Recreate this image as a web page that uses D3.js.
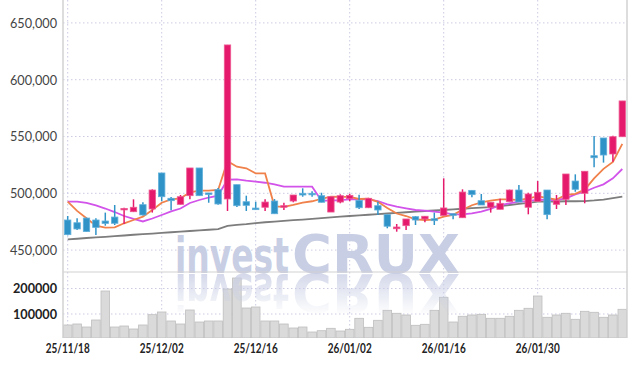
<!DOCTYPE html>
<html><head><meta charset="utf-8">
<script src="https://cdn.jsdelivr.net/npm/d3@7/dist/d3.min.js"></script>
<style>html,body{margin:0;padding:0;background:#fff;} svg{display:block;}</style>
</head><body>
<svg id="chart" width="637" height="366"></svg>
<script>
const dates = ["25/11/18","25/11/19","25/11/20","25/11/21","25/11/24","25/11/25","25/11/26","25/11/27","25/11/28","25/12/01",
"25/12/02","25/12/03","25/12/04","25/12/05","25/12/08","25/12/09","25/12/10","25/12/11","25/12/12","25/12/15",
"25/12/16","25/12/17","25/12/18","25/12/19","25/12/22","25/12/23","25/12/24","25/12/26","25/12/29","25/12/30",
"26/01/02","26/01/05","26/01/06","26/01/07","26/01/08","26/01/09","26/01/12","26/01/13","26/01/14","26/01/15",
"26/01/16","26/01/19","26/01/20","26/01/21","26/01/22","26/01/23","26/01/26","26/01/27","26/01/28","26/01/29",
"26/01/30","26/02/02","26/02/03","26/02/04","26/02/05","26/02/06","26/02/09","26/02/10","26/02/11","26/02/12"];
const tickDates = ["25/11/18","25/12/02","25/12/16","26/01/02","26/01/16","26/01/30"];
const opens = [476500,474100,478200,476500,475600,479100,486000,483800,490000,486200,
517900,495600,490300,497900,522300,500300,503200,495000,507600,492600,
487000,487700,493200,488000,493200,500000,500000,497900,483500,492300,
495200,493800,487300,489100,481200,468800,471500,479400,477400,477600,
480500,482000,478500,502600,493500,487700,485900,492600,502900,487700,
492800,502900,490300,494700,510800,500000,533100,548700,534600,549800];
const highs = [480000,478000,478500,478000,483000,489700,487300,494700,492100,503500,
517900,496700,498500,522300,522300,500300,504700,630600,507600,497900,
492600,494700,494900,491700,498500,504400,501800,500500,497000,499100,
499600,498800,496000,492600,481200,473000,477400,480000,480000,483000,
513200,482000,503500,502600,499400,492100,495200,503200,507300,500500,
510800,502900,498500,517000,516700,519400,550400,548700,550700,581300];
const lows = [463000,467700,466000,463300,471500,472100,473000,483500,480500,483000,
493000,485000,490000,494700,497900,491700,490000,484400,488000,484400,
485500,484400,482000,485300,492100,497000,497000,492000,483500,491200,
493000,486100,487000,480900,469200,466200,467700,472100,474500,472100,
480500,477100,478500,496500,489700,483000,485900,492600,492300,481500,
492800,477100,486200,489700,501400,491200,522900,527000,527800,549800];
const closes = [463600,468600,466300,470000,473500,473600,486700,487700,480900,502900,
497000,493500,497000,522300,497900,499400,490600,630600,489100,489400,
485600,492300,482000,489100,498500,498500,498800,492100,497000,497900,
498200,487300,495600,485300,471000,470300,477400,476500,479800,475900,
487100,480600,501100,498800,489700,492100,491200,502900,492300,499400,
500900,481200,493800,517000,503500,519400,531300,533700,549800,581300];
const volumes = [56900,60800,49000,76500,190200,49000,52900,41200,56900,97300,
107900,72600,60800,115700,68600,72600,72600,198000,241200,123500,
127500,72600,72600,60800,45100,49000,29400,34500,43900,33300,
40000,83100,47800,75300,114500,102800,96100,55700,59600,114500,
165500,68600,91000,96100,98800,83100,83100,91000,114500,122400,
170600,87100,96100,102800,79200,110600,106700,87100,96100,118400];
const ma5 = [492600,484500,478000,471500,469700,470000,473600,476500,479400,485300,
491700,494700,495600,500900,502300,502300,502900,528300,523400,522000,
517500,517500,488500,488000,489800,491800,493000,495200,497000,496900,
496800,495000,495200,492500,487000,482200,480000,477000,476500,476800,
479500,481000,485500,489500,492000,493500,494600,494600,494000,495600,
497200,496000,494500,498700,499500,503200,513100,521500,527600,543500];
const ma10 = [492600,492600,491500,489300,486600,483500,480000,477400,475200,477800,
480900,484000,486600,491500,494100,496300,497900,512000,512300,511100,
510200,509300,507900,505800,505800,505800,505800,493500,493500,494000,
494700,494700,494700,493200,490300,488200,486800,485300,484700,483800,
482900,481500,481500,482400,483800,486200,489700,491200,492600,493200,
494500,494100,494100,495600,499100,501400,504900,507900,513200,521400];
const maLong = [459500,460000,460650,461200,461700,462300,462850,463500,464000,464500,
465100,465700,466200,466800,467300,467900,468500,471400,472200,472800,
473800,474500,475100,475800,476400,476900,477550,478200,478800,479400,
480000,480500,481100,481600,482200,482700,483300,483900,484400,484900,
485300,485800,486400,486900,487400,487900,488800,489700,490700,491600,
492600,492700,492800,493000,493000,493200,493700,494500,495700,497000];
const priceTicks = [450000,500000,550000,600000,650000];
const volumeTicks = [100000,200000];
const watermarkParts = ["invest", "CRUX"];

const svg = d3.select("#chart");
const left = 63, right = 627, top0 = 0, sep = 272, volBottom = 338;

const x = d3.scaleBand().domain(dates).range([left, right]).padding(0);
const cx = d => x(d) + x.bandwidth() / 2;
const y = d3.scaleLinear().domain([450000, 650000]).range([250.1, 22.9]);
const yv = d3.scaleLinear().domain([0, 200000]).range([339.5, 288.5]);

const defs = svg.append("defs");
defs.append("clipPath").attr("id", "pclip").append("rect")
  .attr("x", left).attr("y", top0).attr("width", right - left).attr("height", sep - top0);
defs.append("clipPath").attr("id", "vclip").append("rect")
  .attr("x", left).attr("y", sep).attr("width", right - left).attr("height", volBottom - sep);
const lg = defs.append("linearGradient").attr("id", "fadeGrad")
  .attr("x1", 0).attr("y1", 0).attr("x2", 0).attr("y2", 1);
lg.append("stop").attr("offset", "0%").attr("stop-color", "#fff").attr("stop-opacity", 0.8);
lg.append("stop").attr("offset", "100%").attr("stop-color", "#fff").attr("stop-opacity", 0.05);
defs.append("mask").attr("id", "fadeMask").attr("maskUnits", "userSpaceOnUse")
  .attr("x", 0).attr("y", 0).attr("width", 637).attr("height", 366)
  .append("rect").attr("x", 150).attr("y", 273).attr("width", 340).attr("height", 40)
  .attr("fill", "url(#fadeGrad)");

const gridColor = "#cbcbe4";
svg.append("g").selectAll("line").data(priceTicks).join("line")
  .attr("x1", left).attr("x2", right).attr("y1", d => y(d)).attr("y2", d => y(d))
  .attr("stroke", gridColor).attr("stroke-width", 1).attr("stroke-dasharray", "1.5,2.5");
svg.append("g").selectAll("line").data(volumeTicks).join("line")
  .attr("x1", left).attr("x2", right).attr("y1", d => yv(d)).attr("y2", d => yv(d))
  .attr("stroke", gridColor).attr("stroke-width", 1).attr("stroke-dasharray", "1.5,2.5");
svg.append("g").selectAll("line").data(tickDates).join("line")
  .attr("x1", d => cx(d)).attr("x2", d => cx(d)).attr("y1", top0).attr("y2", volBottom)
  .attr("stroke", gridColor).attr("stroke-width", 1).attr("stroke-dasharray", "1.5,2.5");

// watermark (single text element, two spans)
const wmText = svg.append("text").attr("id", "wm").attr("x", 175).attr("y", 273)
  .attr("font-family", "'DejaVu Sans', sans-serif").attr("font-weight", 700)
  .attr("fill", "#c8cee4");
wmText.append("tspan").attr("font-size", 50).attr("textLength", 114)
  .attr("lengthAdjust", "spacingAndGlyphs").text(watermarkParts[0]);
wmText.append("tspan").attr("x", 292).attr("font-size", 53).attr("textLength", 168)
  .attr("lengthAdjust", "spacingAndGlyphs").text(watermarkParts[1]);

// volume bars
svg.append("g").attr("clip-path", "url(#vclip)").selectAll("rect").data(volumes).join("rect")
  .attr("x", (d, i) => x(dates[i]) + 0.4).attr("width", x.bandwidth() - 0.8)
  .attr("y", d => yv(d)).attr("height", d => volBottom - yv(d))
  .attr("fill", "#dadada").attr("stroke", "#bebebe").attr("stroke-width", 0.8);

// reflection of the watermark (reuses the same text)
svg.append("g").attr("mask", "url(#fadeMask)")
  .append("use").attr("href", "#wm").attr("transform", "translate(0,547) scale(1,-1)");

// borders
svg.append("line").attr("x1", left).attr("x2", left).attr("y1", top0).attr("y2", volBottom)
  .attr("stroke", "#d2d2d2").attr("stroke-width", 1.5);
svg.append("line").attr("x1", right).attr("x2", right).attr("y1", top0).attr("y2", volBottom)
  .attr("stroke", "#d2d2d2").attr("stroke-width", 1.5);
svg.append("line").attr("x1", left).attr("x2", right).attr("y1", sep).attr("y2", sep)
  .attr("stroke", "#d2d2d2").attr("stroke-width", 1.2);

// moving averages
const pg = svg.append("g").attr("clip-path", "url(#pclip)");
const line = d3.line().x((d, i) => cx(dates[i])).y(d => y(d));
pg.append("path").datum(maLong).attr("d", line).attr("fill", "none")
  .attr("stroke", "#7d7d7d").attr("stroke-width", 1.8);
pg.append("path").datum(ma10).attr("d", line).attr("fill", "none")
  .attr("stroke", "#d253ea").attr("stroke-width", 1.8);
pg.append("path").datum(ma5).attr("d", line).attr("fill", "none")
  .attr("stroke", "#f0814a").attr("stroke-width", 1.8);

// candles
const up = "#e51a6c", upEdge = "#ee5b93", down = "#2f93c8", downEdge = "#62b0db";
const candles = pg.append("g").selectAll("g").data(dates).join("g");
candles.append("line")
  .attr("x1", d => cx(d)).attr("x2", d => cx(d))
  .attr("y1", (d, i) => y(highs[i])).attr("y2", (d, i) => y(lows[i]))
  .attr("stroke", (d, i) => closes[i] >= opens[i] ? up : down).attr("stroke-width", 1.5);
candles.append("rect")
  .attr("x", d => cx(d) - 3.2).attr("width", 6.4)
  .attr("y", (d, i) => y(Math.max(opens[i], closes[i])))
  .attr("height", (d, i) => Math.max(1.5, Math.abs(y(opens[i]) - y(closes[i]))))
  .attr("fill", (d, i) => closes[i] >= opens[i] ? up : down)
  .attr("stroke", (d, i) => closes[i] >= opens[i] ? upEdge : downEdge).attr("stroke-width", 0.8);

// axes
const pAxis = svg.append("g").attr("transform", "translate(57,0)")
  .call(d3.axisLeft(y).tickValues(priceTicks).tickFormat(d3.format(",")).tickSize(0).tickPadding(0));
pAxis.select(".domain").remove();
pAxis.selectAll("text").attr("font-family", "Lato, 'Open Sans', sans-serif")
  .attr("font-size", 14).attr("fill", "#444").attr("textLength", 47).attr("lengthAdjust", "spacingAndGlyphs");

const vAxis = svg.append("g").attr("transform", "translate(57,0)")
  .call(d3.axisLeft(yv).tickValues(volumeTicks).tickFormat(d3.format("d")).tickSize(0).tickPadding(0));
vAxis.select(".domain").remove();
vAxis.selectAll("text").attr("font-family", "Lato, 'Open Sans', sans-serif").attr("font-weight", 700)
  .attr("font-size", 14).attr("fill", "#222").attr("textLength", 44).attr("lengthAdjust", "spacingAndGlyphs");

const xAxis = svg.append("g").attr("transform", `translate(0,${volBottom})`)
  .call(d3.axisBottom(x).tickValues(tickDates).tickSize(0).tickPadding(5));
xAxis.select(".domain").remove();
xAxis.selectAll("text").attr("font-family", "Lato, 'Open Sans', sans-serif").attr("font-weight", 700)
  .attr("font-size", 14).attr("fill", "#222").attr("textLength", 44).attr("lengthAdjust", "spacingAndGlyphs");
</script>
</body></html>
